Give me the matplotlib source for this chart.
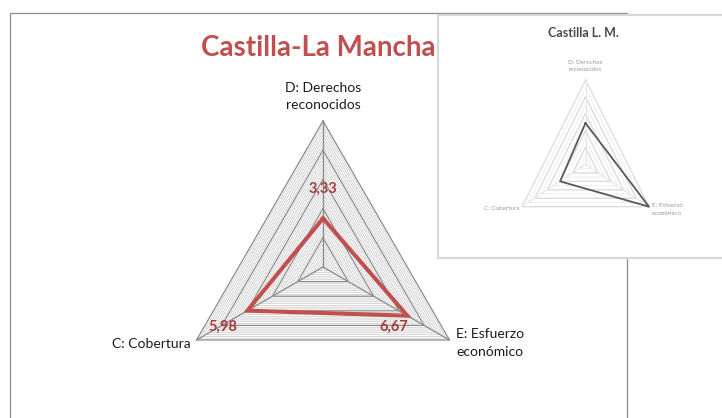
import numpy as np
import matplotlib.pyplot as plt
from matplotlib.patches import Rectangle

plt.rcParams['font.family'] = ['Lato', 'DejaVu Sans']

# datos
categorias = ["D: Derechos\nreconocidos", "E: Esfuerzo\neconómico", "C: Cobertura"]
valores = [3.33, 6.67, 5.98]
titulo = "Castilla-La Mancha"
# grafico pequeño pegado encima (captura de otro grafico)
valores_mini = [4.9, 10.0, 4.0]
titulo_mini = "Castilla L. M."
maximo = 10
paso_mayor = 2
paso_menor = 0.25

angulos = np.deg2rad([90, -30, 210])


def triangulo(vals):
    vals = np.asarray(vals, dtype=float) * np.ones(3)
    x = np.cos(angulos) * vals
    y = np.sin(angulos) * vals
    return np.append(x, x[0]), np.append(y, y[0])


fig = plt.figure(figsize=(7.22, 4.18), dpi=100)

# marco del grafico principal
fig.add_artist(Rectangle((10 / 722, -0.1), 617 / 722, 1.1 - 13 / 418,
                         transform=fig.transFigure, fill=False,
                         edgecolor='#8c8c8c', lw=0.9, zorder=1))

# radar principal: centro (323, 267) px, 14.6 px por unidad
esc = 14.6
ax = fig.add_axes([0, 0, 1, 1], zorder=2)
ax.set_xlim(-323 / esc, (722 - 323) / esc)
ax.set_ylim(-(418 - 267) / esc, 267 / esc)
ax.axis('off')
ax.patch.set_alpha(0)

for r in np.arange(paso_menor, maximo, paso_menor):
    if abs(r / paso_mayor - round(r / paso_mayor)) < 1e-6:
        continue
    x, y = triangulo(r)
    ax.plot(x, y, color='#c0c0c0', lw=0.45)
for r in np.arange(paso_mayor, maximo + 0.01, paso_mayor):
    x, y = triangulo(r)
    ax.plot(x, y, color='#8a8a8a', lw=0.9)
for a in angulos:
    ax.plot([0, np.cos(a) * maximo], [0, np.sin(a) * maximo], color='#8a8a8a', lw=0.9)

x, y = triangulo(valores)
ax.plot(x, y, color='#C0504D', lw=2.9, solid_joinstyle='miter')

# D, E, C
desplaz = [(0, 30), (-14, -11), (-25, -16)]
for i, v in enumerate(valores):
    ax.annotate(f"{v:.2f}".replace('.', ','), (x[i], y[i]), xytext=desplaz[i],
                textcoords='offset pixels', ha='center', va='center',
                color='#A23E3B', fontsize=10.5, fontweight='bold')

ax.annotate(categorias[0], (0, maximo), xytext=(0, 10), textcoords='offset pixels',
            ha='center', va='bottom', fontsize=10, linespacing=1.45, color='#1a1a1a')
xe, ye = np.cos(angulos[1]) * maximo, np.sin(angulos[1]) * maximo
ax.annotate(categorias[1], (xe, ye), xytext=(7, -3), textcoords='offset pixels',
            ha='left', va='center', fontsize=10, linespacing=1.5, color='#1a1a1a')
xc, yc = np.cos(angulos[2]) * maximo, np.sin(angulos[2]) * maximo
ax.annotate(categorias[2], (xc, yc), xytext=(-6, -4), textcoords='offset pixels',
            ha='right', va='center', fontsize=10, color='#1a1a1a')

fig.text(318.5 / 722, 1 - 48 / 418, titulo, ha='center', va='center',
         fontsize=20, fontweight='bold', color='#C0504D')

# recuadro del grafico pequeño
fig.add_artist(Rectangle((438 / 722, 1 - 258 / 418), 300 / 722, 243 / 418,
                         transform=fig.transFigure, facecolor='white',
                         edgecolor='#d8d8d8', lw=1.6, zorder=3))
fig.text(583 / 722, 1 - 33 / 418, titulo_mini, ha='center', va='center',
         fontsize=9, fontweight='bold', color='#4a4a4a', zorder=5)

axm = fig.add_axes([522 / 722, 1 - 206.7 / 418, 127 / 722, 126.7 / 418], zorder=4)
axm.set_xlim(-maximo * np.cos(np.deg2rad(30)), maximo * np.cos(np.deg2rad(30)))
axm.set_ylim(-maximo / 2, maximo)
axm.axis('off')
axm.patch.set_alpha(0)
for r in np.arange(1, maximo, 1.0):
    xm, ym = triangulo(r)
    axm.plot(xm, ym, color='#efefef', lw=0.8, clip_on=False)
for r in np.arange(paso_mayor, maximo + 0.01, paso_mayor):
    xm, ym = triangulo(r)
    axm.plot(xm, ym, color='#dcdcdc', lw=0.9, clip_on=False)
for a in angulos:
    axm.plot([0, np.cos(a) * maximo], [0, np.sin(a) * maximo], color='#e4e4e4', lw=0.7)
xm, ym = triangulo(valores_mini)
axm.plot(xm, ym, color='#5a5a5a', lw=1.3, clip_on=False)

axm.annotate(categorias[0], (0, maximo), xytext=(0, 8), textcoords='offset pixels',
             ha='center', va='bottom', fontsize=4.5, linespacing=1.6, color='#9a9a9a')
axm.annotate(categorias[1], (xm[1], ym[1]), xytext=(3, -3), textcoords='offset pixels',
             ha='left', va='center', fontsize=4.5, linespacing=1.6, color='#9a9a9a')
axm.annotate(categorias[2], (-maximo * np.cos(np.deg2rad(30)), -maximo / 2), xytext=(-3, -2),
             textcoords='offset pixels', ha='right', va='center', fontsize=4.5, color='#9a9a9a')

fig.savefig('out.png', dpi=100)
